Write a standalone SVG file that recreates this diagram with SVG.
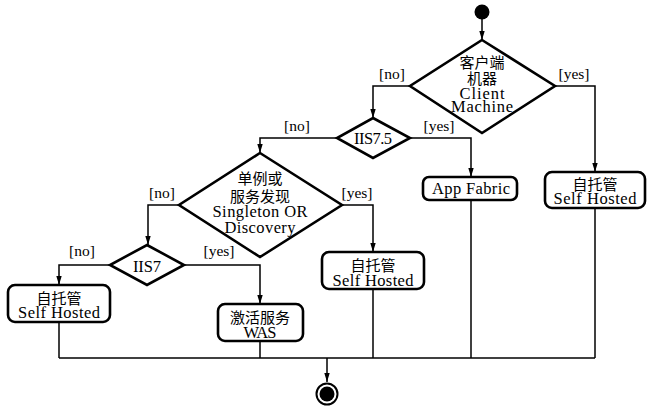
<svg xmlns="http://www.w3.org/2000/svg" width="657" height="411" viewBox="0 0 657 411">
<style>
.bg{fill:#fff}
.dia{fill:#fff;stroke:#000;stroke-width:2.6;stroke-linejoin:miter}
.box{fill:#fff;stroke:#000;stroke-width:2.6}
.con{fill:none;stroke:#000;stroke-width:1.5}
.t{font-family:"Liberation Serif","DejaVu Serif",serif;font-size:16.5px;fill:#000;text-anchor:middle}
.c{font-family:"Noto Sans CJK SC","Noto Sans",sans-serif;font-size:15px;fill:#000;text-anchor:middle}
.l{font-family:"Liberation Serif","DejaVu Serif",serif;font-size:15.5px;fill:#000;text-anchor:middle}
</style>
<defs>
<marker id="arr" viewBox="0 0 10 10" refX="10" refY="5" markerWidth="9" markerHeight="9" markerUnits="userSpaceOnUse" orient="auto">
<path d="M0,2 L10,5 L0,8 Z" fill="#000"/>
</marker>
</defs>
<rect class="bg" x="0" y="0" width="657" height="411"/>
<g id="connectors">
<line class="con" x1="482" y1="19" x2="482" y2="40" marker-end="url(#arr)"/>
<polyline class="con" points="410,86 373,86 373,118" marker-end="url(#arr)"/>
<polyline class="con" points="555,86 595,86 595,172" marker-end="url(#arr)"/>
<polyline class="con" points="410,138 471,138 471,177" marker-end="url(#arr)"/>
<polyline class="con" points="337,138 260,138 260,153" marker-end="url(#arr)"/>
<polyline class="con" points="342,205 373,205 373,252" marker-end="url(#arr)"/>
<polyline class="con" points="179,205 148,205 148,245" marker-end="url(#arr)"/>
<polyline class="con" points="110,265 59,265 59,285" marker-end="url(#arr)"/>
<polyline class="con" points="184,265 260,265 260,304" marker-end="url(#arr)"/>
<line class="con" x1="59" y1="322" x2="59" y2="358"/>
<line class="con" x1="260" y1="341" x2="260" y2="358"/>
<line class="con" x1="373" y1="289" x2="373" y2="358"/>
<line class="con" x1="471" y1="200" x2="471" y2="358"/>
<line class="con" x1="595" y1="208" x2="595" y2="358"/>
<line class="con" x1="59" y1="358" x2="595" y2="358"/>
<line class="con" x1="327" y1="358" x2="327" y2="382" marker-end="url(#arr)"/>
<text class="l" x="392" y="79">[no]</text>
<text class="l" x="574" y="79">[yes]</text>
<text class="l" x="297" y="131">[no]</text>
<text class="l" x="439" y="131">[yes]</text>
<text class="l" x="162" y="198">[no]</text>
<text class="l" x="357" y="198">[yes]</text>
<text class="l" x="82" y="256">[no]</text>
<text class="l" x="219" y="256">[yes]</text>
</g>
<g id="start">
<circle cx="482" cy="12" r="7.5" fill="#000"/>
</g>
<g id="d-client">
<polygon class="dia" points="482,40 555,86 482,133 410,86"/>
<text class="c" x="482" y="68">客户端</text>
<text class="c" x="482" y="84">机器</text>
<text class="t" x="482" y="99" textLength="45">Client</text>
<text class="t" x="482" y="112" textLength="62">Machine</text>
</g>
<g id="d-iis75">
<polygon class="dia" points="373,118 410,138 373,158 337,138"/>
<text class="t" x="373" y="144" textLength="38">IIS7.5</text>
</g>
<g id="b-appfabric">
<rect class="box" x="423" y="177" width="94" height="23" rx="6"/>
<text class="t" x="471" y="194" textLength="78">App Fabric</text>
</g>
<g id="b-self-right">
<rect class="box" x="545" y="172" width="100" height="36" rx="7"/>
<text class="c" x="595" y="190">自托管</text>
<text class="t" x="595" y="204" textLength="83">Self Hosted</text>
</g>
<g id="d-singleton">
<polygon class="dia" points="260,153 342,205 260,257 179,205"/>
<text class="c" x="260" y="184">单例或</text>
<text class="c" x="260" y="202">服务发现</text>
<text class="t" x="260" y="217" textLength="95">Singleton OR</text>
<text class="t" x="260" y="233" textLength="71">Discovery</text>
</g>
<g id="b-self-mid">
<rect class="box" x="322" y="252" width="102" height="37" rx="7"/>
<text class="c" x="373" y="271">自托管</text>
<text class="t" x="373" y="286" textLength="81">Self Hosted</text>
</g>
<g id="d-iis7">
<polygon class="dia" points="147,245 184,265 147,285 110,265"/>
<text class="t" x="147" y="272" textLength="28">IIS7</text>
</g>
<g id="b-self-left">
<rect class="box" x="8" y="285" width="102" height="37" rx="7"/>
<text class="c" x="59" y="304">自托管</text>
<text class="t" x="59" y="318" textLength="82">Self Hosted</text>
</g>
<g id="b-was">
<rect class="box" x="218" y="304" width="85" height="37" rx="7"/>
<text class="c" x="260" y="323">激活服务</text>
<text class="t" x="260" y="338" textLength="33">WAS</text>
</g>
<g id="end">
<circle cx="327" cy="394" r="10.5" fill="#fff" stroke="#000" stroke-width="2"/>
<circle cx="327" cy="394" r="7.5" fill="#000"/>
</g>
</svg>
